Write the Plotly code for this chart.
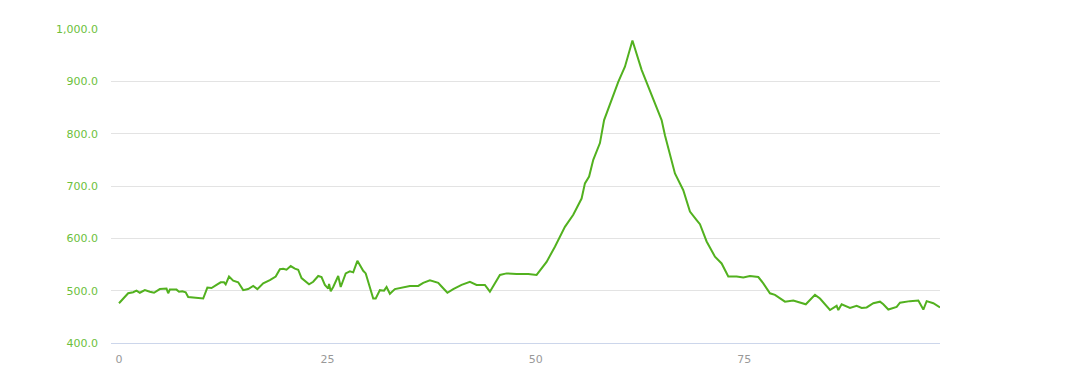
import plotly.graph_objects as go

distance_km = [0, 1.1, 1.7, 2.1, 2.5, 3.1, 3.7, 4.2, 4.9, 5.7, 5.9, 6.1, 6.9, 7.2, 7.6, 8.0, 8.3, 9.1,
               10.1, 10.6, 11.1, 11.7, 12.2, 12.6, 12.8, 13.2, 13.7, 14.3, 14.9, 15.5, 16.1, 16.6, 17.3,
               18.1, 18.8, 19.3, 19.7, 20.1, 20.6, 21.1, 21.5, 21.9, 22.8, 23.3, 23.9, 24.3, 24.7, 25.1,
               25.2, 25.4, 25.7, 26.3, 26.6, 27.2, 27.7, 28.1, 28.6, 29.3, 29.6, 30.5, 30.8, 31.3, 31.8,
               32.1, 32.5, 33.1, 33.7, 34.9, 35.9, 36.5, 37.3, 38.3, 38.7, 39.4, 40.1, 41.1, 42.1, 42.9,
               43.9, 44.5, 45.7, 46.5, 47.7, 49.1, 50.1, 51.3, 52.3, 53.5, 54.5, 55.5, 55.9, 56.4,
               56.9, 57.7, 58.2, 59.1, 59.9, 60.7, 61.6, 62.7, 63.9, 65.1, 65.5, 66.7, 67.7, 68.5, 69.3,
               69.7, 70.5, 71.5, 72.3, 73.1, 74.1, 74.9, 75.7, 76.7, 77.3, 78.1, 78.7, 79.9, 80.9, 81.7,
               82.4, 83.5, 84.1, 85.3, 86.1, 86.3, 86.7, 87.7, 88.5, 89.1, 89.7, 90.5, 91.3, 91.7, 92.3,
               93.3, 93.7, 94.9, 95.9, 96.5, 96.9, 97.7, 98.5]
elevation_m = [476, 495, 497, 500, 496, 501, 498, 496, 503, 504, 495, 502, 502, 498, 499, 497, 488, 487,
               485, 506, 505, 511, 516, 516, 512, 527, 519, 516, 501, 503, 509, 503, 514,
               520, 527, 541, 542, 540, 547, 542, 540, 524, 512, 517, 528, 526, 511, 504,
               513, 499, 507, 528, 507, 533, 537, 535, 557, 538, 533, 485, 485, 501, 500,
               507, 494, 503, 505, 509, 509, 515, 520, 515, 508, 496, 503, 511, 517, 511,
               511, 498, 530, 533, 532, 532, 530, 555, 584, 622, 645, 676, 705, 718,
               750, 782, 826, 864, 899, 928, 978, 922, 874, 826, 797, 724, 692, 651, 635,
               627, 594, 565, 552, 527, 527, 525, 528, 526, 514, 495, 492, 479, 481, 477,
               474, 492, 485, 463, 471, 463, 474, 467, 471, 467, 468, 476, 479, 474, 464,
               469, 477, 480, 481, 464, 480, 476, 468]

x_ticks = [0, 25, 50, 75]
y_ticks = [400, 500, 600, 700, 800, 900, 1000]

fig = go.Figure()
fig.add_trace(go.Scatter(
    x=distance_km, y=elevation_m, mode="lines",
    line=dict(color="#52b11f", width=2),
    hoverinfo="skip", showlegend=False,
))

fig.update_layout(
    width=1080, height=377,
    margin=dict(l=111, r=140, t=29, b=34, autoexpand=False),
    paper_bgcolor="white", plot_bgcolor="white",
    font=dict(family="DejaVu Sans", size=11),
    xaxis=dict(
        range=[-0.96, 98.5], tickvals=x_ticks, ticktext=[str(v) for v in x_ticks],
        showgrid=False, zeroline=False, showline=True, linecolor="#ccd6eb", linewidth=1,
        ticks="", tickfont=dict(color="#999999", size=11), ticklabelstandoff=6,
        fixedrange=True, automargin=False,
    ),
    yaxis=dict(
        range=[400, 1000], tickvals=y_ticks, tickformat=",.1f",
        showgrid=True, gridcolor="#e3e3e3", gridwidth=1, zeroline=False, showline=False,
        ticks="", tickfont=dict(color="#6dbf3b", size=11), ticklabelstandoff=12,
        fixedrange=True, automargin=False,
    ),
)

fig.write_html("out.html")
